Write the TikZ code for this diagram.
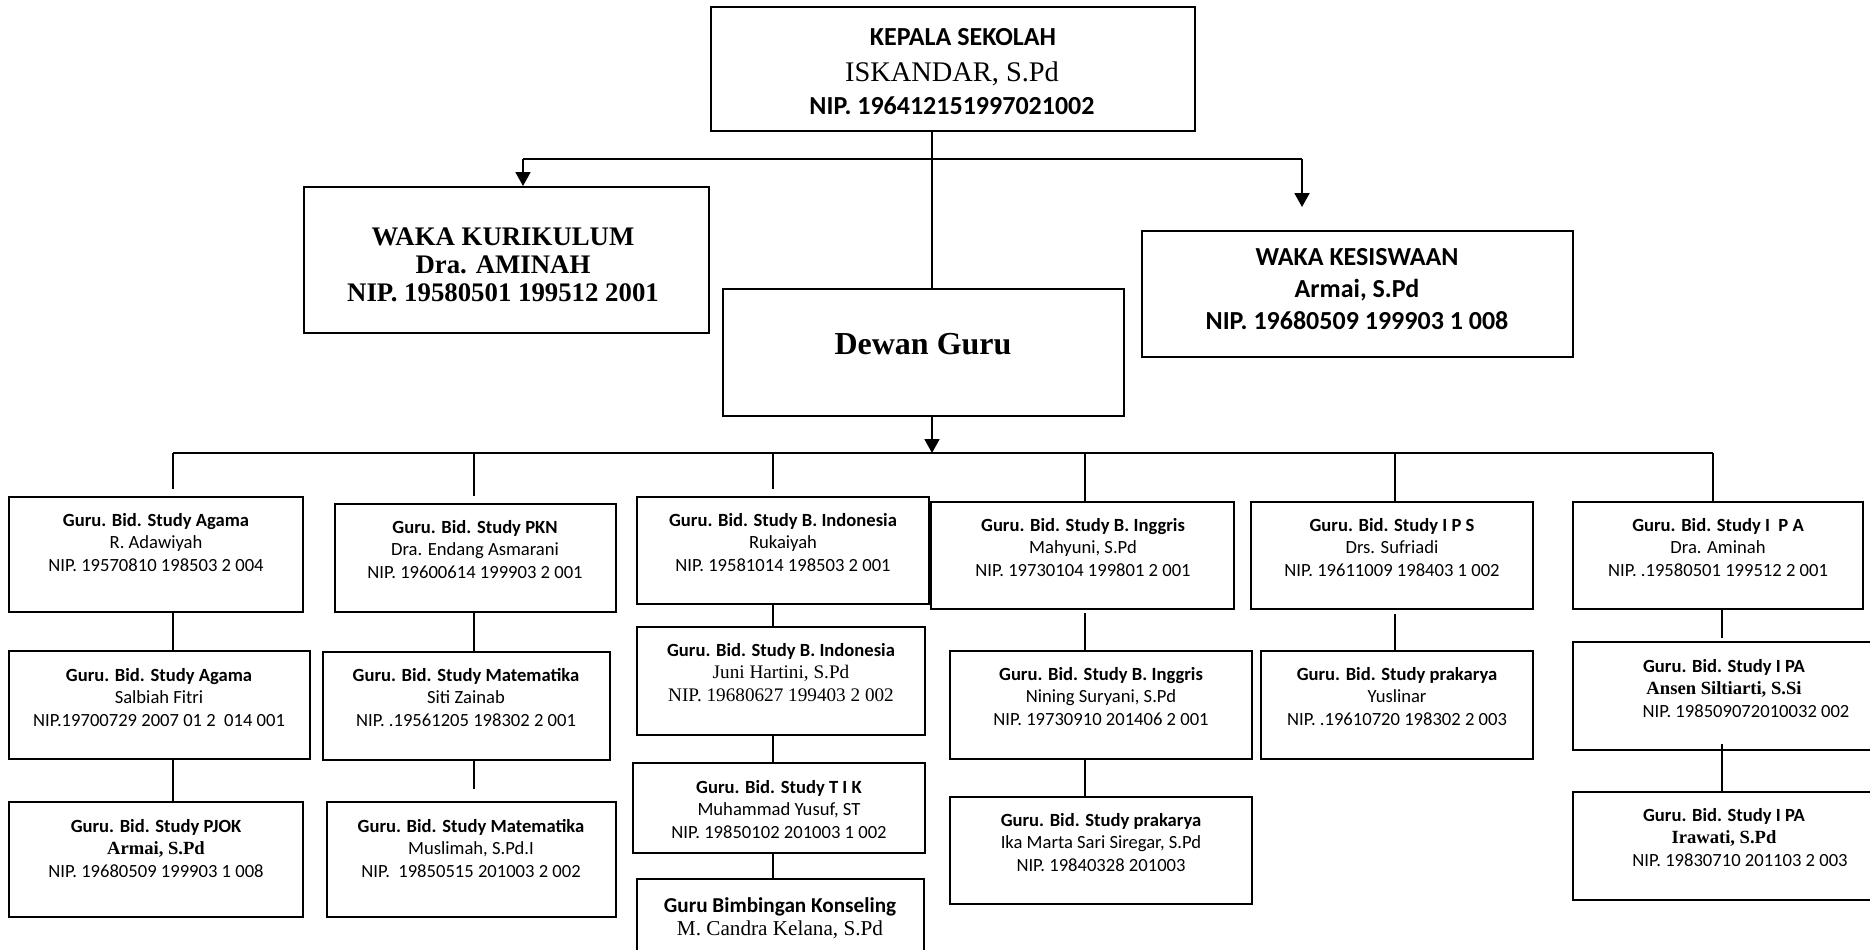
\documentclass[tikz,border=0pt]{standalone}
\usepackage{fontspec}
\setmainfont{Carlito}
\newfontfamily\tnr{Liberation Serif}
\usetikzlibrary{arrows.meta,calc}
\tikzset{
  boxst/.style={draw, line width=1pt, inner sep=0pt, rectangle},
  txt/.style={align=center, inner sep=0pt, font=\fontsize{9.3}{11.25}\selectfont},
  conn/.style={line width=0.9pt},
  arr/.style={line width=0.9pt, -{Triangle[width=7.5pt,length=7pt]}},
}
\newcommand\obox[8]{%
  \node[boxst, minimum width={(#4-#2)*0.5pt}, minimum height={(#5-#3)*0.5pt}] (#1) at ({(#2+#4)/2},{(#3+#5)/2}) {};
  \node[txt, anchor=north] (#1-t) at (#6,#7) {#8};}
\begin{document}
\begin{tikzpicture}[x=0.5pt,y=-0.5pt]
\useasboundingbox (0,0) rectangle (1870,949);
\clip (0,0) rectangle (1870,949);

% ---------- top level ----------
\node[boxst, minimum width={(1195-711)*0.5pt}, minimum height={(131-7)*0.5pt}] (kepala) at (953,69) {};
\node[anchor=base, inner sep=0pt, font=\fontsize{13}{15}\selectfont\bfseries] (kepala-t1) at (963,45) {KEPALA SEKOLAH};
\node[anchor=base, inner sep=0pt, font=\tnr\fontsize{14.2}{17}\selectfont] (kepala-t2) at (952,81) {ISKANDAR, S.Pd};
\node[anchor=base, inner sep=0pt, font=\fontsize{13}{15}\selectfont\bfseries] (kepala-t3) at (952,114) {NIP. 196412151997021002};

\node[boxst, minimum width={(709-304)*0.5pt}, minimum height={(333-187)*0.5pt}] (wk) at (506.5,260) {};
\node[anchor=north, align=center, inner sep=0pt, font=\tnr\bfseries\fontsize{13.4}{14.2}\selectfont] (wk-t) at (503,227) {WAKA KURIKULUM\\Dra. AMINAH\\NIP. 19580501 199512 2001};

\node[boxst, minimum width={(1573-1142)*0.5pt}, minimum height={(357-231)*0.5pt}] (wks) at (1357.5,294) {};
\node[anchor=north, align=center, inner sep=0pt, font=\bfseries\fontsize{13}{16}\selectfont] (wks-t) at (1357,248) {WAKA KESISWAAN\\Armai, S.Pd\\NIP. 19680509 199903 1 008};

\node[boxst, minimum width={(1124-723)*0.5pt}, minimum height={(416-289)*0.5pt}] (dewan) at (923.5,352.5) {};
\node[inner sep=0pt, font=\tnr\bfseries\fontsize{16}{19}\selectfont] (dewan-t) at (923,344) {Dewan Guru};

\coordinate (cTop) at (932,159);
\coordinate (hL) at (523,159);
\coordinate (hR) at (1302,159);
\coordinate (hRend) at (1302,207);
\coordinate (bus) at (932,453);
\draw[conn] (kepala.south -| cTop) -- (dewan.north -| cTop);
\draw[conn] (hL) -- (hR);
\draw[arr] (hL) -- (wk.north -| hL);
\draw[arr] (hR) -- (hRend);
\draw[arr] (dewan.south -| bus) -- (bus);

% ---------- bus ----------
\coordinate (cAg) at (173,453);
\coordinate (cPk) at (474,453);
\coordinate (cBi) at (773,453);
\coordinate (cBe) at (1085,453);
\coordinate (cIps) at (1395,453);
\coordinate (cIpa) at (1713,453);
\coordinate (cIpa2) at (1722,600);
\draw[conn] (cAg) -- (cIpa);

% ---------- column Agama ----------
\obox{ag1}{9}{497}{303}{612}{156}{513}{\textbf{Guru. Bid. Study Agama}\\R. Adawiyah\\NIP. 19570810 198503 2 004}
\obox{ag2}{9}{651}{310}{759}{159}{668}{\textbf{Guru. Bid. Study Agama}\\Salbiah Fitri\\NIP.19700729 2007 01 2~ 014 001}
\obox{pjok}{9}{802}{303}{917}{156}{819}{\textbf{Guru. Bid. Study PJOK}\\{\tnr\bfseries Armai, S.Pd}\\NIP. 19680509 199903 1 008}

% ---------- column PKN ----------
\obox{pkn}{335}{504}{616}{612}{475}{520}{\textbf{Guru. Bid. Study PKN}\\Dra. Endang Asmarani\\NIP. 19600614 199903 2 001}
\obox{mat1}{323}{652}{610}{760}{466}{668}{\textbf{Guru. Bid. Study Matematika}\\Siti Zainab\\NIP. .19561205 198302 2 001}
\obox{mat2}{327}{802}{616}{917}{471}{819}{\textbf{Guru. Bid. Study Matematika}\\Muslimah, S.Pd.I\\NIP.~ 19850515 201003 2 002}

% ---------- column B. Indonesia ----------
\obox{bi1}{637}{497}{929}{604}{783}{513}{\textbf{Guru. Bid. Study B. Indonesia}\\Rukaiyah\\NIP. 19581014 198503 2 001}
\obox{bi2}{637}{627}{925}{735}{781}{643}{\textbf{Guru. Bid. Study B. Indonesia}\\{\tnr\fontsize{9.6}{11.25}\selectfont Juni Hartini, S.Pd}\\{\tnr\fontsize{9.6}{11.25}\selectfont NIP. 19680627 199403 2 002}}
\obox{tik}{633}{763}{925}{853}{779}{780}{\textbf{Guru. Bid. Study T I K}\\Muhammad Yusuf, ST\\NIP. 19850102 201003 1 002}
\node[boxst, minimum width={(924-637)*0.5pt}, minimum height={(975-879)*0.5pt}] (bk) at (780.5,927) {};
\node[anchor=north, align=center, inner sep=0pt, font=\fontsize{10.6}{11.5}\selectfont] (bk-t) at (780,897) {\textbf{Guru Bimbingan Konseling}\\{\tnr M. Candra Kelana, S.Pd}};

% ---------- column B. Inggris ----------
\obox{be1}{931}{502}{1234}{609}{1083}{518}{\textbf{Guru. Bid. Study B. Inggris}\\Mahyuni, S.Pd\\NIP. 19730104 199801 2 001}
\obox{be2}{950}{651}{1252}{759}{1101}{667}{\textbf{Guru. Bid. Study B. Inggris}\\Nining Suryani, S.Pd\\NIP. 19730910 201406 2 001}
\obox{pr1}{950}{797}{1252}{904}{1101}{813}{\textbf{Guru. Bid. Study prakarya}\\Ika Marta Sari Siregar, S.Pd\\NIP. 19840328 201003}

% ---------- column IPS ----------
\obox{ips}{1251}{502}{1533}{609}{1392}{518}{\textbf{Guru. Bid. Study I P S}\\Drs. Sufriadi\\NIP. 19611009 198403 1 002}
\obox{yus}{1261}{651}{1533}{759}{1397}{667}{\textbf{Guru. Bid. Study prakarya}\\Yuslinar\\NIP. .19610720 198302 2 003}

% ---------- column IPA ----------
\obox{ipa}{1573}{502}{1863}{609}{1718}{518}{\textbf{Guru. Bid. Study I~ P A}\\Dra. Aminah\\NIP. .19580501 199512 2 001}
\obox{ansen}{1573}{642}{1885}{750}{1724}{659}{\textbf{Guru. Bid. Study I PA}\\{\tnr\bfseries Ansen Siltiarti, S.Si}\\\hspace*{22pt}NIP. 198509072010032 002}
\obox{ira}{1573}{792}{1885}{900}{1724}{808}{\textbf{Guru. Bid. Study I PA}\\{\tnr\bfseries Irawati, S.Pd}\\\hspace*{16pt}NIP. 19830710 201103 2 003}

% ---------- connectors ----------
\draw[conn] (cAg) -- ($(ag1.north -| cAg)+(0,-7)$);
\draw[conn] (ag1.south -| cAg) -- (ag2.north -| cAg);
\draw[conn] (ag2.south -| cAg) -- (pjok.north -| cAg);
\draw[conn] (cPk) -- ($(pkn.north -| cPk)+(0,-7)$);
\draw[conn] (pkn.south -| cPk) -- (mat1.north -| cPk);
\draw[conn] (mat1.south -| cPk) -- ($(mat2.north -| cPk)+(0,-12)$);
\draw[conn] (cBi) -- ($(bi1.north -| cBi)+(0,-7)$);
\draw[conn] (bi1.south -| cBi) -- (bi2.north -| cBi);
\draw[conn] (bi2.south -| cBi) -- (tik.north -| cBi);
\draw[conn] (tik.south -| cBi) -- (bk.north -| cBi);
\draw[conn] (cBe) -- (be1.north -| cBe);
\draw[conn] ($(be1.south -| cBe)+(0,3)$) -- (be2.north -| cBe);
\draw[conn] (be2.south -| cBe) -- (pr1.north -| cBe);
\draw[conn] (cIps) -- (ips.north -| cIps);
\draw[conn] ($(ips.south -| cIps)+(0,4)$) -- (yus.north -| cIps);
\draw[conn] (cIpa) -- (ipa.north -| cIpa);
\draw[conn] (ipa.south -| cIpa2) -- ($(ansen.north -| cIpa2)+(0,-3)$);
\draw[conn] ($(ansen.south -| cIpa2)+(0,-7)$) -- (ira.north -| cIpa2);
\end{tikzpicture}
\end{document}
